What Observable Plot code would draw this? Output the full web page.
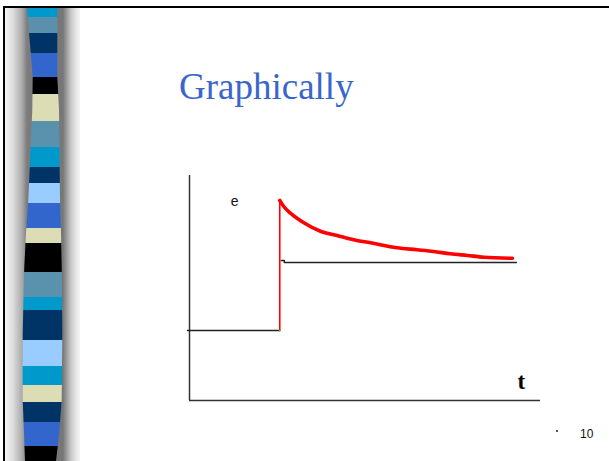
<!DOCTYPE html>
<html>
<head>
<meta charset="utf-8">
<script src="https://cdn.jsdelivr.net/npm/d3@7"></script>
<script src="https://cdn.jsdelivr.net/npm/@observablehq/plot@0.6"></script>
<style>
  html, body { margin: 0; padding: 0; background: #fff; }
  #slide { position: relative; width: 609px; height: 461px; overflow: hidden; background: #fff; }
  .abs { position: absolute; }
  #topBorder { left: 3px; top: 6px; width: 606px; height: 2px; background: #000; }
  #leftBorder { left: 3px; top: 6px; width: 2px; height: 455px; background: #000; }
  #shade { left: 5px; top: 8px; width: 75px; height: 453px;
    background: linear-gradient(to right, #f4f4f4 0px, #dcdcdc 8px, #ababab 17px, #7c7c7c 22px, #777 58px, #8c8c8c 60px, #c8c8c8 66px, #ececec 72px, #fff 78px); }
  #stripe { left: 0px; top: 8px; width: 80px; height: 453px; }
  #title { left: 179px; top: 68px; font-family: "Liberation Serif", "Times New Roman", serif; font-size: 37px; line-height: 37px; color: #3a66cc; white-space: nowrap; }
  #page { left: 580px; top: 428px; font-family: "Liberation Sans", Arial, sans-serif; font-size: 12px; line-height: 12px; color: #111; }
  #dot { left: 556px; top: 430px; width: 1.5px; height: 1.5px; background: #555; }
  #chart { left: 0; top: 0; }
</style>
</head>
<body>
<div id="slide">
  <div id="shade" class="abs"></div>
  <div id="stripe" class="abs"></div>
  <div id="topBorder" class="abs"></div>
  <div id="leftBorder" class="abs"></div>
  <div id="title" class="abs">Graphically</div>
  <div id="dot" class="abs"></div>
  <div id="page" class="abs">10</div>
  <div id="chart" class="abs"></div>
</div>
<script>
// ---- decorative stripe bands (colour, band end in slide px) ----
const bandColors = ["#0099cc","#5a90ab","#003366","#3366cc","#000000","#ddddb5","#5a92ad","#0099cc","#003366","#99ccff","#3366cc","#ddddb5","#000000","#5a92ad","#0099cc","#003366","#99ccff","#0099cc","#ddddb5","#003366","#3366cc","#000000"];
const bandEnds   = [17,33,53,77,94,121,147,167,183,203,228,243,272,297,310,340,366,385,402,422,446,461];
const edgeY      = [8,77,110,200,233,267,333,400,433,461];
const edgeLeft   = [27,32.7,32.3,28.3,26,24.3,22.7,22.7,24,25];
const edgeRight  = [57.3,57.3,59,60,61,61.7,62.3,61.7,59.3,56];

// ---- chart data (time t, signal e) ----
const baseT = [-0.2, 9];
const baseE = [7, 7];
const jumpT = [9, 9];
const jumpE = [7, 20];
const responseT = [9.0, 9.4, 10.07, 11.4, 13.06, 14.73, 16.38, 18.05, 20.7, 22.7, 24.33, 26.0, 27.7, 29.35, 32.2];
const responseE = [20.0, 19.4, 18.73, 17.77, 16.93, 16.5, 16.07, 15.77, 15.27, 15.07, 14.9, 14.67, 14.5, 14.33, 14.22];
const finalT = [9.15, 9.45, 32.6];
const finalE = [14.0, 13.8, 13.8];
const labels = ["e", "t"];
const labelT = [4.5, 33.1];
const labelE = [19.5, 1.2];

// stripe built from arrays
(function () {
  const el = document.getElementById("stripe");
  let stops = [], prev = 8;
  bandColors.forEach((c, i) => {
    stops.push(`${c} ${prev - 8}px`, `${c} ${bandEnds[i] - 8}px`);
    prev = bandEnds[i];
  });
  el.style.background = `linear-gradient(to bottom, ${stops.join(",")})`;
  const pts = edgeY.map((y, i) => `${edgeLeft[i]}px ${y - 8}px`)
    .concat(edgeY.map((y, i) => `${edgeRight[i]}px ${y - 8}px`).reverse());
  el.style.clipPath = `polygon(${pts.join(",")})`;
})();

const zip = (a, b) => a.map((v, i) => ({t: v, e: b[i]}));

const chart = Plot.plot({
  width: 609,
  height: 461,
  marginLeft: 189,
  marginRight: 69,
  marginTop: 175,
  marginBottom: 61,
  x: {domain: [0, 35], axis: null},
  y: {domain: [0, 22.5], axis: null},
  style: {background: "transparent", overflow: "visible"},
  marks: [
    Plot.ruleX([0], {stroke: "#333", strokeWidth: 1.5}),
    Plot.ruleY([0], {stroke: "#333", strokeWidth: 1.5}),
    Plot.line(zip(baseT, baseE), {x: "t", y: "e", stroke: "#222", strokeWidth: 1.5}),
    Plot.line(zip(finalT, finalE), {x: "t", y: "e", stroke: "#222", strokeWidth: 1.5, curve: "step-after"}),
    Plot.line(zip(jumpT, jumpE), {x: "t", y: "e", stroke: "#ff0000", strokeWidth: 1.6}),
    Plot.line(zip(responseT, responseE), {x: "t", y: "e", stroke: "#ff0000", strokeWidth: 3.6, curve: "monotone-x"}),
    Plot.dot([{t: 9, e: 7}], {x: "t", y: "e", r: 1, fill: "#33cc33", stroke: null}),
    Plot.text([{s: labels[0], t: labelT[0], e: labelE[0]}],
      {x: "t", y: "e", text: "s", lineAnchor: "bottom", fontSize: 14, fontFamily: "Liberation Sans, Arial, sans-serif", fill: "#111"}),
    Plot.text([{s: labels[1], t: labelT[1], e: labelE[1]}],
      {x: "t", y: "e", text: "s", lineAnchor: "bottom", fontSize: 23, fontWeight: "bold", fontFamily: "Liberation Serif, Times New Roman, serif", fill: "#000"})
  ]
});
chart.style.background = "transparent";
document.getElementById("chart").appendChild(chart);
</script>
</body>
</html>
